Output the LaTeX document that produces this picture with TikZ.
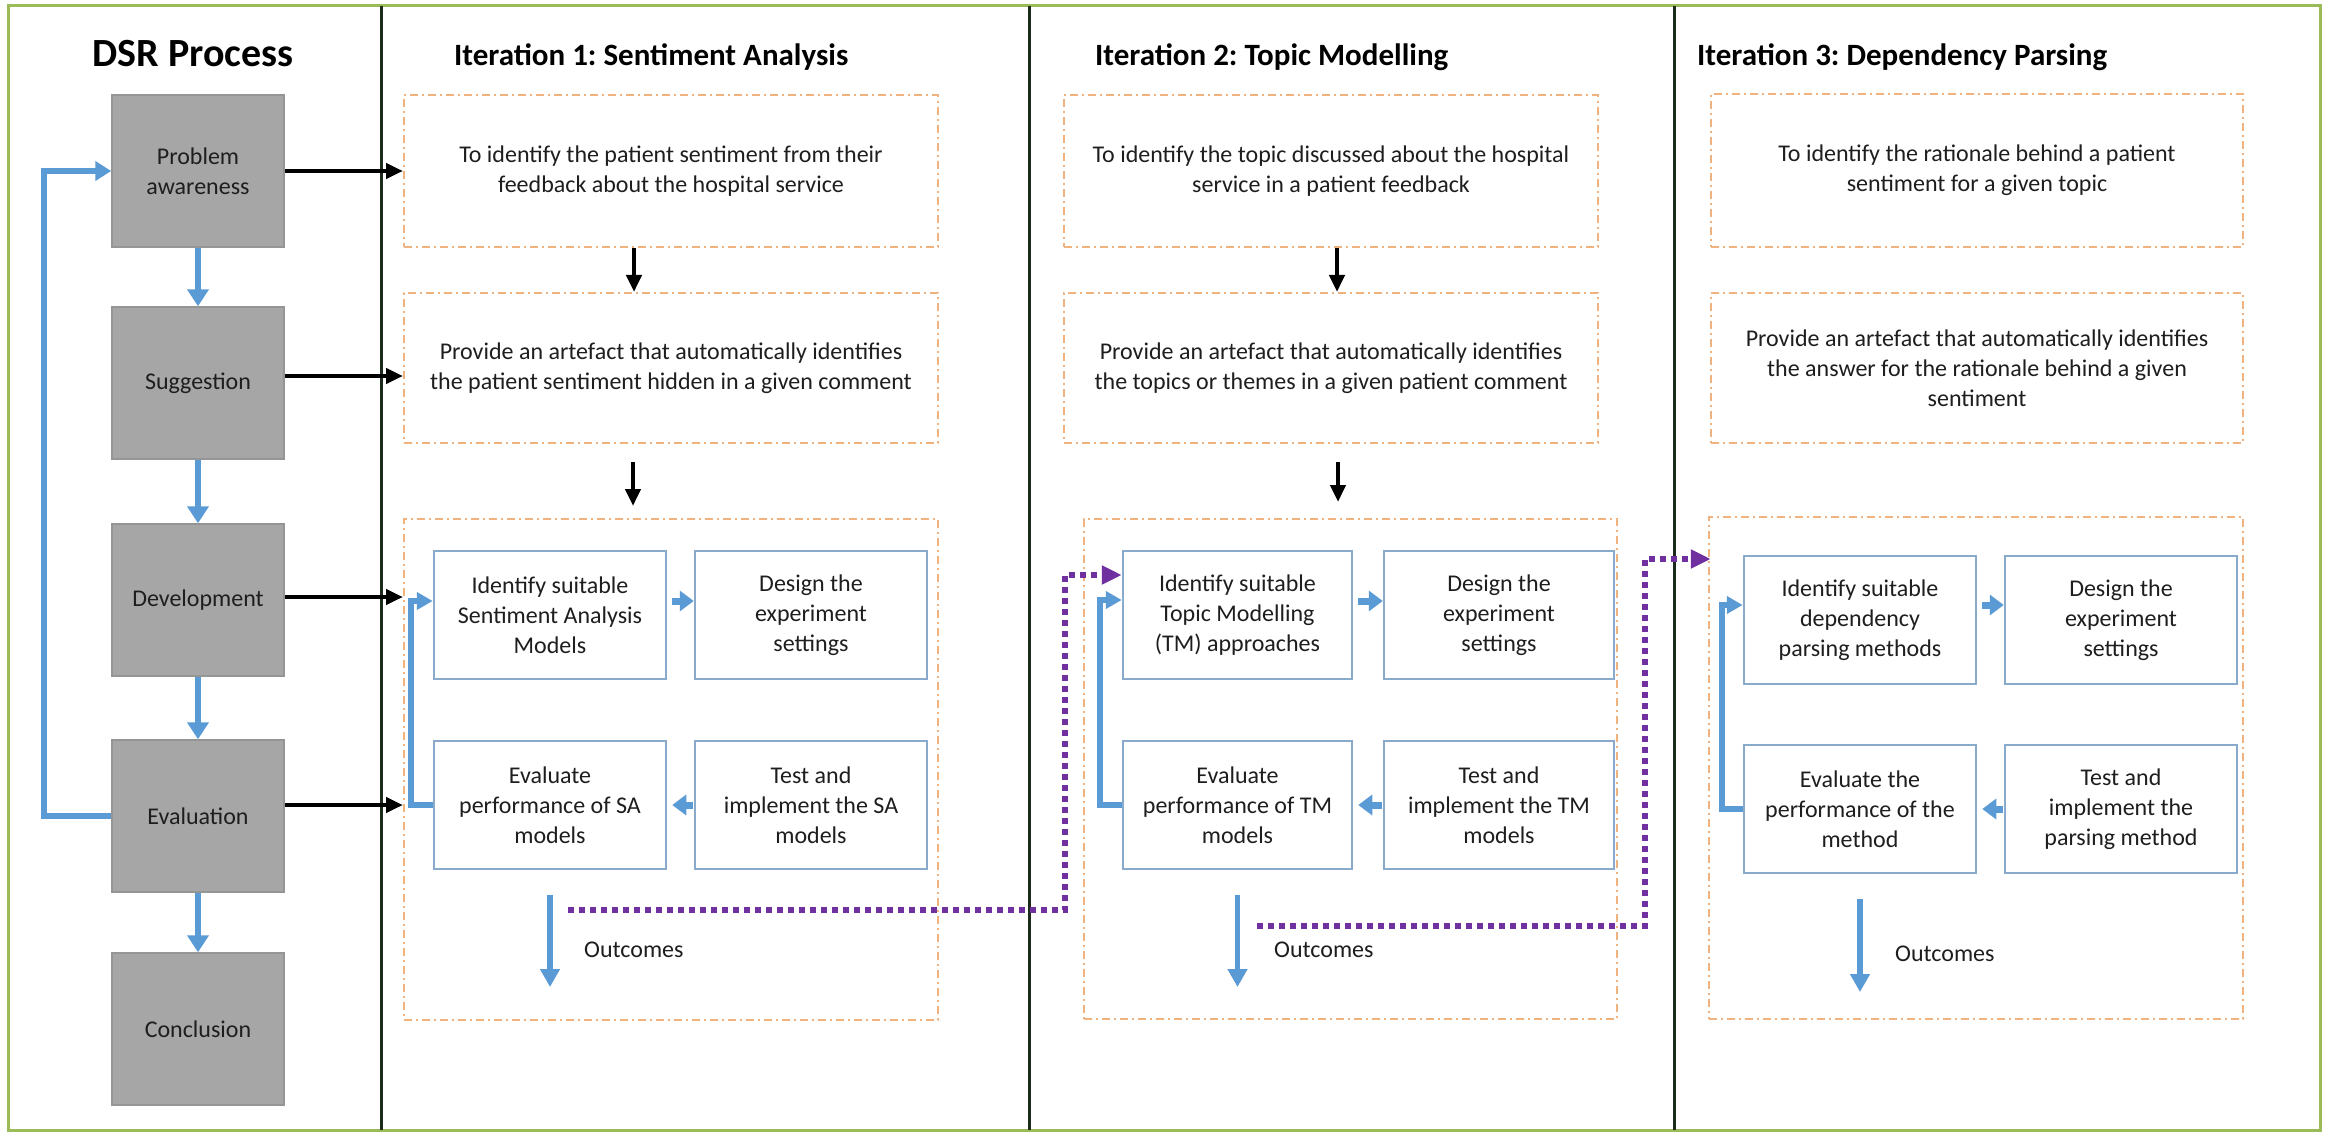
\documentclass[tikz,border=0pt]{standalone}
\usepackage{fontspec}
\setmainfont{Carlito}
\usetikzlibrary{arrows.meta}
\frenchspacing
\definecolor{bordergreen}{HTML}{9BBB59}
\definecolor{divline}{HTML}{1C2B1C}
\definecolor{boxgray}{HTML}{A6A6A6}
\definecolor{boxgrayline}{HTML}{959595}
\definecolor{dashorange}{HTML}{F0B27F}
\definecolor{innerblue}{HTML}{8AAACB}
\definecolor{arrowblue}{HTML}{5B9BD5}
\definecolor{dotpurple}{HTML}{7030A0}
\definecolor{txt}{HTML}{1E1E1E}
\begin{document}
\begin{tikzpicture}[x=1pt,y=-1pt,
  bodytext/.style={font=\fontsize{24}{30}\selectfont, align=center, text=txt},
  graybox/.style={bodytext, draw=boxgrayline, line width=1.5, fill=boxgray, minimum width=172, minimum height=152, inner sep=0},
  dashbox/.style={bodytext, draw=dashorange, line width=2, dash pattern=on 8pt off 4pt on 2pt off 4pt, minimum width=534, inner sep=0},
  innerbox/.style={bodytext, draw=innerblue, line width=2.5, minimum width=232, minimum height=128, inner sep=0},
  blackarrow/.style={draw=black, line width=4.5, -{Triangle[length=17,width=15]}},
  dsrarrow/.style={draw=arrowblue, line width=6, -{Triangle[length=17,width=21]}},
  dsrloop/.style={draw=arrowblue, line width=6, -{Triangle[length=16,width=19]}},
  smallarrow/.style={draw=arrowblue, line width=7, -{Triangle[length=14,width=20]}},
  loopline/.style={draw=arrowblue, line width=5.5, -{Triangle[length=16,width=17]}},
  outarrow/.style={draw=arrowblue, line width=5.5, -{Triangle[length=18,width=19]}},
  dotline/.style={draw=dotpurple, line width=5.5, dash pattern=on 5.5pt off 5.5pt, -{Triangle[length=20,width=18]}},
  itertitle/.style={font=\bfseries\fontsize{31}{36}\selectfont, anchor=base west, inner sep=0, text=black},
  outlabel/.style={bodytext, anchor=west, inner sep=0},
]
\fill[white] (0,0) rectangle (2330,1134);
\useasboundingbox (0,0) rectangle (2330,1134);

% frame and dividers
\draw[bordergreen, line width=3] (8,6) rectangle (2320,1130);
\draw[divline, line width=3] (381,6) -- (381,1130);
\draw[divline, line width=3] (1029,6) -- (1029,1130);
\draw[divline, line width=3] (1674,6) -- (1674,1130);

% titles
\node[font=\bfseries\fontsize{40}{44}\selectfont, anchor=base, inner sep=0, text=black] (dsrt) at (193,67) {DSR Process};
\node[itertitle] (it1) at (454,66) {Iteration 1: Sentiment Analysis};
\node[itertitle] (it2) at (1095,66) {Iteration 2: Topic Modelling};
\node[itertitle] (it3) at (1697,66) {Iteration 3: Dependency Parsing};

% DSR process boxes
\node[graybox] (pa) at (198,171) {Problem\\awareness};
\node[graybox] (sug) at (198,383) {Suggestion};
\node[graybox] (dev) at (198,600) {Development};
\node[graybox] (eva) at (198,816) {Evaluation};
\node[graybox] (con) at (198,1029) {Conclusion};

\draw[dsrarrow] (pa) -- (sug);
\draw[dsrarrow] (sug) -- (dev);
\draw[dsrarrow] (dev) -- (eva);
\draw[dsrarrow] (eva) -- (con);
\draw[dsrloop] (eva.west) -- ++(-67,0) |- (pa.west);

% Iteration 1
\node[dashbox, minimum height=152] (p1) at (671,171) {To identify the patient sentiment from their\\feedback about the hospital service};
\node[dashbox, minimum height=150] (s1) at (671,368) {Provide an artefact that automatically identifies\\the patient sentiment hidden in a given comment};
\node[dashbox, minimum height=501] (b1) at (671,769.5) {};
\node[innerbox] (id1) at (550,615) {Identify suitable\\Sentiment Analysis\\Models};
\node[innerbox] (ds1) at (811,615) {Design the\\experiment\\settings};
\node[innerbox] (ev1) at (550,805) {Evaluate\\performance of SA\\models};
\node[innerbox] (ts1) at (811,805) {Test and\\implement the SA\\models};

% Iteration 2
\node[dashbox, minimum height=152] (p2) at (1331,171) {To identify the topic discussed about the hospital\\service in a patient feedback};
\node[dashbox, minimum height=150] (s2) at (1331,368) {Provide an artefact that automatically identifies\\the topics or themes in a given patient comment};
\node[dashbox, minimum width=533, minimum height=500] (b2) at (1350.5,769) {};
\node[innerbox, minimum width=229] (id2) at (1237.5,615) {Identify suitable\\Topic Modelling\\(TM) approaches};
\node[innerbox, minimum width=230] (ds2) at (1499,615) {Design the\\experiment\\settings};
\node[innerbox, minimum width=229] (ev2) at (1237.5,805) {Evaluate\\performance of TM\\models};
\node[innerbox, minimum width=230] (ts2) at (1499,805) {Test and\\implement the TM\\models};

% Iteration 3
\node[dashbox, minimum width=532, minimum height=153] (p3) at (1977,170.5) {To identify the rationale behind a patient\\sentiment for a given topic};
\node[dashbox, minimum width=532, minimum height=150] (s3) at (1977,368) {Provide an artefact that automatically identifies\\the answer for the rationale behind a given\\sentiment};
\node[dashbox, minimum width=534, minimum height=502] (b3) at (1976,768) {};
\node[innerbox] (id3) at (1860,620) {Identify suitable\\dependency\\parsing methods};
\node[innerbox] (ds3) at (2121,620) {Design the\\experiment\\settings};
\node[innerbox] (ev3) at (1860,809) {Evaluate the\\performance of the\\method};
\node[innerbox] (ts3) at (2121,809) {Test and\\implement the\\parsing method};

% DSR to iteration 1
\draw[blackarrow] (pa.east) -- (pa.east -| p1.west);
\draw[blackarrow] ([yshift=7]sug.east) -- ([yshift=7]sug.east -| s1.west);
\draw[blackarrow] ([yshift=3]dev.east) -- ([yshift=3]dev.east -| b1.west);
\draw[blackarrow] ([yshift=11]eva.east) -- ([yshift=11]eva.east -| b1.west);

% vertical black arrows
\draw[blackarrow] ([xshift=-37]p1.south) -- ([xshift=-37]s1.north);
\draw[blackarrow] ([xshift=-38,yshift=-18]s1.south) -- ([xshift=-38,yshift=12]b1.north);
\draw[blackarrow] ([xshift=6]p2.south) -- ([xshift=6]s2.north);
\draw[blackarrow] ([xshift=7,yshift=-18]s2.south) -- ([xshift=-12.5,yshift=16]b2.north);

% inner cycles
\draw[smallarrow] ([xshift=5,yshift=14]id1.east) -- ([yshift=14]ds1.west);
\draw[smallarrow] ([xshift=-1]ts1.west) -- ([xshift=5]ev1.east);
\draw[loopline] (ev1.west) -- ++(-22,0) |- ([yshift=14]id1.west);

\draw[smallarrow] ([xshift=5,yshift=14]id2.east) -- ([yshift=14]ds2.west);
\draw[smallarrow] ([xshift=-1]ts2.west) -- ([xshift=5]ev2.east);
\draw[loopline] (ev2.west) -- ++(-22,0) |- ([yshift=15]id2.west);

\draw[smallarrow] ([xshift=5,yshift=15]id3.east) -- ([yshift=15]ds3.west);
\draw[smallarrow] ([xshift=-1]ts3.west) -- ([xshift=5]ev3.east);
\draw[loopline] (ev3.west) -- ++(-21,0) |- ([yshift=15]id3.west);

% outcomes
\coordinate (o1) at (550,987);
\coordinate (o2) at (1237.5,987);
\coordinate (o3) at (1860,992);
\draw[outarrow] ([yshift=-25]ev1.south) -- (o1);
\draw[outarrow] ([yshift=-25]ev2.south) -- (o2);
\draw[outarrow] ([yshift=-25]ev3.south) -- (o3);
\node[outlabel] (ol1) at (584,950) {Outcomes};
\node[outlabel] (ol2) at (1274,950) {Outcomes};
\node[outlabel] (ol3) at (1895,954) {Outcomes};

% purple dotted links
\coordinate (q1) at (568,910);
\coordinate (q2) at (1257,926);
\draw[dotline] (q1) -| ([xshift=-57,yshift=40]id2.west) -- ([yshift=40]id2.west);
\draw[dotline] (q2) -| ([xshift=-98,yshift=61]id3.west) -- ([xshift=-32,yshift=61]id3.west);
\end{tikzpicture}
\end{document}
